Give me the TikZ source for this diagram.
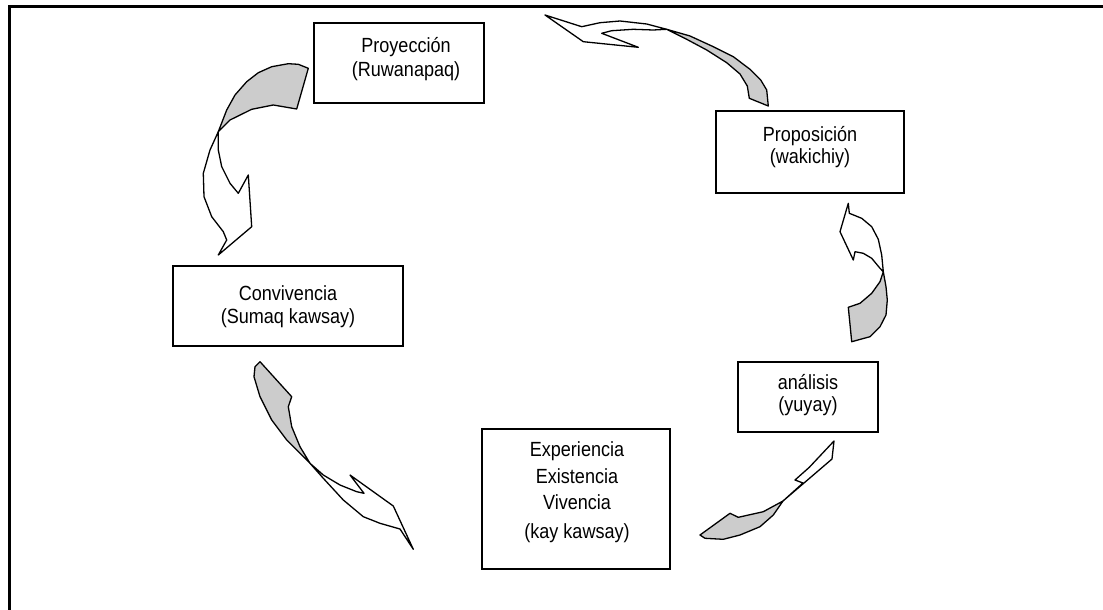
\documentclass[tikz,border=0pt]{standalone}
\usepackage{fontspec}
\setmainfont[FakeStretch=0.88]{Liberation Sans}
\definecolor{tailgray}{RGB}{204,204,204}
\begin{document}
\begin{tikzpicture}[x=1pt,y=-1pt,
  box/.style={draw, line width=1.4pt, rectangle, inner sep=0pt, outer sep=0pt},
  lbl/.style={anchor=base, inner sep=0pt, font=\fontsize{20.5}{24}\selectfont},
  headpart/.style={draw, line width=1.3pt, line join=round, fill=white},
  tailpart/.style={draw, line width=1.3pt, line join=round, fill=tailgray}]
\useasboundingbox (0,0) rectangle (1103,610);
% frame
\draw[line width=3pt] (9.5,610) -- (9.5,6.5) -- (1103,6.5);
% boxes
\node[box, minimum width=170pt, minimum height=80pt] (proy) at (399,63) {};
\node[box, minimum width=188pt, minimum height=82pt] (propo) at (810,152) {};
\node[box, minimum width=140pt, minimum height=70pt] (anal) at (808,397) {};
\node[box, minimum width=188pt, minimum height=140pt] (expe) at (576,499) {};
\node[box, minimum width=230pt, minimum height=80pt] (conv) at (288,306) {};
% texts
\node[lbl] (t1a) at (406,53) {Proyección};
\node[lbl] (t1b) at (406,77) {(Ruwanapaq)};
\node[lbl] (t2a) at (810,141) {Proposición};
\node[lbl] (t2b) at (810,163) {(wakichiy)};
\node[lbl] (t3a) at (808,389) {análisis};
\node[lbl] (t3b) at (808,411) {(yuyay)};
\node[lbl] (t4a) at (577,456) {Experiencia};
\node[lbl] (t4b) at (577,483) {Existencia};
\node[lbl] (t4c) at (577,509) {Vivencia};
\node[lbl] (t4d) at (577,538) {(kay kawsay)};
\node[lbl] (t5a) at (288,300) {Convivencia};
\node[lbl] (t5b) at (288,323) {(Sumaq kawsay)};
% arrow 1: Proyeccion -> Convivencia
\draw[tailpart] (308.3,68.3) -- (298.3,64.3) -- (288.3,63.7) -- (271.7,66.7) -- (258.3,72.7) -- (246.7,81.7) -- (235,95) -- (226.7,110) -- (218.3,131.7) -- (230,120) -- (251.7,109.3) -- (273.3,105) -- (296.7,109) -- cycle;
\draw[headpart] (218.3,131.7) -- (210,150) -- (203.3,173.3) -- (204,196.7) -- (211.7,216.7) -- (223.3,231.7) -- (226.7,240) -- (218.3,255) -- (251.7,226.7) -- (248.3,175) -- (238.3,193.3) -- (230,183.3) -- (221.7,166.7) -- (218.3,150) -- cycle;
% arrow 2: Proposicion -> Proyeccion
\draw[tailpart] (666.7,29.3) -- (690,36) -- (713.3,46.7) -- (733.3,56.7) -- (750,69.3) -- (760.7,80) -- (766.7,90) -- (768.3,106) -- (749.3,98.3) -- (747.3,86) -- (740,74) -- (726.7,62.7) -- (706.7,50) -- (686.7,39.3) -- cycle;
\draw[headpart] (666.7,29.3) -- (646.7,24) -- (620,21) -- (600,22.7) -- (581.7,26.7) -- (545,15) -- (583.3,41.7) -- (638.3,47.3) -- (601.7,33.3) -- (611.7,30.7) -- (633.3,29.3) -- (653.3,30) -- cycle;
% arrow 3: analisis -> Proposicion
\draw[headpart] (848.3,203.3) -- (849.3,213.3) -- (861.7,218.3) -- (871.7,226.7) -- (878.3,239.3) -- (881.7,255) -- (883.3,271.7) -- (880,268.3) -- (871.7,258.3) -- (863.3,253.3) -- (855,251.7) -- (853.3,260) -- (840,231.7) -- cycle;
\draw[tailpart] (883.3,271.7) -- (886,286.7) -- (887.3,300) -- (886,315) -- (880,326.7) -- (870,336.7) -- (851.7,341.7) -- (848.3,307.3) -- (860,303.3) -- (871.7,293.3) -- (880,281.7) -- cycle;
% arrow 4: Convivencia -> Experiencia
\draw[tailpart] (260,361.7) -- (291.7,396.7) -- (288.3,406.7) -- (291.7,426.7) -- (300,446.7) -- (310,463.3) -- (286.7,440) -- (271.7,420) -- (260,396.7) -- (254,376.7) -- (255,366.7) -- cycle;
\draw[headpart] (310,463.3) -- (323.3,475) -- (340,485) -- (356.7,491.7) -- (364,493.3) -- (350,475) -- (393.3,506) -- (413.3,549.3) -- (400,529) -- (380,523.3) -- (363.3,516.7) -- (343.3,500) -- (323.3,478.3) -- cycle;
% arrow 5: Experiencia -> analisis
\draw[tailpart] (783,501) -- (763.3,511.7) -- (738.3,517.3) -- (730,513.3) -- (700,535) -- (705,538.3) -- (723.3,539.3) -- (740,535) -- (760,526.7) -- (773.3,515) -- cycle;
\draw[headpart] (783,501) -- (803,483) -- (795,480) -- (809.3,467.3) -- (834,441) -- (832,459) -- cycle;
\end{tikzpicture}
\end{document}
